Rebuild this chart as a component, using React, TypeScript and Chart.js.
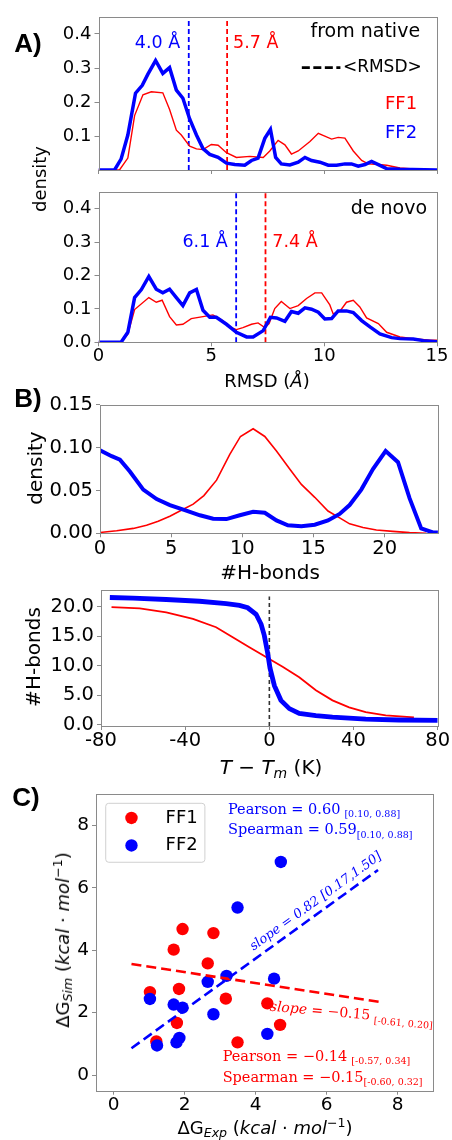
import React, { useEffect, useRef } from 'react';
import { Chart, registerables } from 'chart.js';
Chart.register(...registerables);

const SANS = '"DejaVu Sans", sans-serif';
const SERIF = '"DejaVu Serif", serif';
const RED = '#ff0000';
const BLUE = '#0000ff';
const SPINE = '#8a8a8a';

// ---------- Panel A: RMSD densities ----------
const A_X_TICKS = [0, 5, 10, 15];
const A_Y_TICKS_TOP = [0.1, 0.2, 0.3, 0.4];
const A_Y_TICKS_BOTTOM = [0.0, 0.1, 0.2, 0.3, 0.4];

const NATIVE_FF1_X = [0, 0.93, 1.3, 1.6, 1.97, 2.34, 2.85, 3.15, 3.45, 3.67, 4.04, 4.34, 4.63, 5.0, 5.3, 5.67, 6.11, 6.71, 7.3, 7.59, 7.96, 8.26, 8.55, 8.85, 9.37, 9.74, 10.33, 10.62, 10.92, 11.29, 11.66, 11.95, 12.4, 12.77, 13.36, 14.1, 15];
const NATIVE_FF1_Y = [0, 0, 0.035, 0.16, 0.221, 0.23, 0.227, 0.178, 0.117, 0.103, 0.07, 0.062, 0.06, 0.075, 0.073, 0.051, 0.037, 0.04, 0.037, 0.056, 0.087, 0.074, 0.047, 0.056, 0.084, 0.108, 0.091, 0.096, 0.094, 0.056, 0.028, 0.018, 0.016, 0.014, 0.006, 0.002, 0];
const NATIVE_FF2_X = [0, 0.71, 1.0, 1.3, 1.64, 1.94, 2.19, 2.53, 2.85, 3.15, 3.45, 3.74, 4.04, 4.34, 4.63, 4.93, 5.3, 5.67, 6.04, 6.48, 6.78, 7.07, 7.37, 7.62, 7.85, 8.1, 8.48, 8.85, 9.15, 9.44, 9.81, 10.18, 10.55, 10.92, 11.21, 11.51, 11.81, 12.1, 12.4, 12.77, 13.36, 15];
const NATIVE_FF2_Y = [0, 0, 0.032, 0.103, 0.226, 0.249, 0.282, 0.322, 0.284, 0.301, 0.235, 0.211, 0.15, 0.103, 0.063, 0.046, 0.037, 0.02, 0.016, 0.014, 0.028, 0.035, 0.093, 0.119, 0.037, 0.018, 0.015, 0.023, 0.037, 0.028, 0.023, 0.014, 0.014, 0.018, 0.018, 0.011, 0.016, 0.025, 0.016, 0.004, 0.002, 0];
const NATIVE_MEAN = [5.7, 4.0]; // FF1, FF2

const DENOVO_FF1_X = [0, 1.0, 1.3, 1.6, 2.23, 2.56, 2.82, 3.15, 3.45, 3.74, 4.11, 4.63, 5.07, 5.44, 5.89, 6.11, 6.4, 6.78, 7.07, 7.37, 7.56, 7.81, 8.1, 8.48, 8.85, 9.22, 9.59, 9.89, 10.25, 10.4, 10.7, 10.99, 11.29, 11.58, 11.88, 12.4, 12.77, 13.36, 13.95, 14.7, 15];
const DENOVO_FF1_Y = [0, 0, 0.024, 0.098, 0.134, 0.12, 0.126, 0.077, 0.052, 0.054, 0.071, 0.077, 0.082, 0.068, 0.044, 0.038, 0.044, 0.054, 0.058, 0.044, 0.056, 0.101, 0.122, 0.101, 0.11, 0.131, 0.148, 0.148, 0.112, 0.085, 0.093, 0.12, 0.126, 0.106, 0.073, 0.056, 0.03, 0.016, 0.011, 0.006, 0.006];
const DENOVO_FF2_X = [0, 1.0, 1.3, 1.6, 1.9, 2.23, 2.56, 2.85, 3.15, 3.45, 3.74, 4.04, 4.34, 4.63, 4.93, 5.22, 5.67, 6.11, 6.56, 6.85, 7.3, 7.62, 7.89, 8.26, 8.55, 8.85, 9.15, 9.44, 9.74, 10.03, 10.33, 10.62, 10.99, 11.29, 11.66, 12.03, 12.47, 12.99, 13.36, 13.95, 14.4, 15];
const DENOVO_FF2_Y = [0, 0, 0.03, 0.134, 0.158, 0.197, 0.159, 0.148, 0.159, 0.134, 0.11, 0.148, 0.158, 0.096, 0.075, 0.075, 0.054, 0.03, 0.016, 0.016, 0.035, 0.075, 0.073, 0.063, 0.092, 0.087, 0.103, 0.099, 0.09, 0.07, 0.071, 0.094, 0.094, 0.089, 0.065, 0.046, 0.025, 0.014, 0.011, 0.01, 0.005, 0.002];
const DENOVO_MEAN = [7.4, 6.1]; // FF1, FF2

// ---------- Panel B: H-bonds ----------
const B_X_TICKS = [0, 5, 10, 15, 20];
const B_Y_TICKS = [0.0, 0.05, 0.1, 0.15];
const HB_FF1_X = [0, 1.17, 2.34, 3.27, 4.09, 4.91, 5.85, 6.55, 7.3, 8.19, 9.12, 9.87, 10.76, 11.58, 12.4, 13.33, 14.15, 15.09, 16.02, 16.84, 17.54, 18.48, 19.42, 20.58, 21.75, 22.92];
const HB_FF1_Y = [0.001, 0.003, 0.0057, 0.0094, 0.014, 0.02, 0.028, 0.034, 0.044, 0.062, 0.092, 0.113, 0.122, 0.113, 0.096, 0.075, 0.057, 0.042, 0.026, 0.018, 0.011, 0.0068, 0.0038, 0.0023, 0.0008, 0];
const HB_FF2_X = [0, 0.82, 1.4, 2.1, 3.04, 3.98, 4.91, 5.96, 7.02, 7.95, 8.89, 9.82, 10.76, 11.58, 12.4, 13.2, 14.15, 15.09, 16.02, 16.84, 17.54, 18.36, 19.18, 20.07, 20.94, 21.75, 22.57, 23.39, 23.74];
const HB_FF2_Y = [0.097, 0.09, 0.086, 0.072, 0.051, 0.04, 0.033, 0.027, 0.021, 0.017, 0.0166, 0.021, 0.025, 0.024, 0.015, 0.0094, 0.0083, 0.01, 0.015, 0.0226, 0.033, 0.051, 0.075, 0.096, 0.083, 0.041, 0.0057, 0.001, 0.0008];

const T_X_TICKS = [-80, -40, 0, 40, 80];
const T_Y_TICKS = [0, 5, 10, 15, 20];
const MELT_FF1_X = [-75, -61.6, -49, -36.3, -25.3, -17.4, -9.5, -3.2, 0, 6.3, 14.2, 22.1, 30, 37.9, 45.8, 55.3, 68.7];
const MELT_FF1_Y = [19.9, 19.7, 19.0, 17.9, 16.5, 14.8, 13.1, 11.8, 11.1, 9.8, 8.0, 5.8, 4.1, 2.9, 2.1, 1.54, 1.2];
const MELT_FF2_X = [-75.8, -64.8, -49, -33.2, -20.5, -14.2, -10.3, -6.3, -3.9, -2.4, -0.8, 0.3, 2.4, 5.5, 9.5, 14.2, 22.1, 30, 45.8, 61.6, 80];
const MELT_FF2_Y = [21.54, 21.43, 21.2, 20.9, 20.5, 20.2, 19.8, 18.7, 17.0, 15.1, 12.1, 9.6, 6.6, 4.1, 2.7, 1.9, 1.5, 1.26, 0.93, 0.77, 0.71];
const TM_LINE_X = 0;
const TM_LINE_TOP = 21.7;

// ---------- Panel C: binding free energies ----------
const C_TICKS = [0, 2, 4, 6, 8];
const DG_FF1_EXP = [1.02, 1.2, 1.69, 1.94, 1.84, 1.78, 2.65, 2.81, 3.16, 3.49, 4.33, 4.69];
const DG_FF1_SIM = [2.66, 1.08, 4.02, 4.68, 2.76, 1.67, 3.58, 4.55, 2.45, 1.05, 2.3, 1.61];
const DG_FF2_EXP = [1.02, 1.22, 1.69, 1.94, 1.77, 1.85, 2.65, 2.81, 3.18, 3.49, 4.33, 4.52, 4.71];
const DG_FF2_SIM = [2.44, 0.95, 2.26, 2.16, 1.05, 1.19, 2.99, 1.95, 3.18, 5.37, 1.32, 3.09, 6.83];
const FIT_INTERCEPT = [3.647, 0.45]; // FF1, FF2 (drawn lines)
const FIT_SLOPE = [-0.174, 0.822];
const FIT_X_RANGE = [[0.5, 7.5], [0.5, 7.45]];

// ---------- helpers ----------
const pts = (xs: number[], ys: number[]) => xs.map((x, i) => ({ x, y: ys[i] }));
const fitLine = (k: number) => FIT_X_RANGE[k].map((x) => ({ x, y: FIT_INTERCEPT[k] + FIT_SLOPE[k] * x }));

type Part = { t: string; size: number; family?: string; style?: string; dy?: number; gap?: number };
type Note = { x: number; y: number; parts: Part[]; color: string; align?: 'left' | 'right' | 'center'; rot?: number };

function drawNote(chart: any, n: Note) {
  const ctx = chart.ctx as CanvasRenderingContext2D;
  const px = chart.scales.x.getPixelForValue(n.x);
  const py = chart.scales.y.getPixelForValue(n.y);
  ctx.save();
  ctx.translate(px, py);
  if (n.rot) ctx.rotate((n.rot * Math.PI) / 180);
  ctx.fillStyle = n.color;
  ctx.textBaseline = 'middle';
  ctx.textAlign = 'left';
  const fonts = n.parts.map((p) => `${p.style || 'normal'} normal ${p.size}px ${p.family || SANS}`);
  const widths = n.parts.map((p, i) => {
    ctx.font = fonts[i];
    return ctx.measureText(p.t).width;
  });
  const total = widths.reduce((a, w, i) => a + w + (n.parts[i].gap || 0), 0);
  let cx = n.align === 'right' ? -total : n.align === 'center' ? -total / 2 : 0;
  n.parts.forEach((p, i) => {
    cx += p.gap || 0;
    ctx.font = fonts[i];
    ctx.fillText(p.t, cx, p.dy || 0);
    cx += widths[i];
  });
  ctx.restore();
}

function makeOverlay(notes: Note[], extra?: (chart: any) => void) {
  return {
    id: 'overlay',
    afterDatasetsDraw(chart: any) {
      const ctx = chart.ctx as CanvasRenderingContext2D;
      const a = chart.chartArea;
      ctx.save();
      ctx.strokeStyle = SPINE;
      ctx.lineWidth = 1;
      const l = Math.round(a.left) + 0.5, t = Math.round(a.top) + 0.5;
      ctx.strokeRect(l, t, Math.round(a.right) - Math.round(a.left), Math.round(a.bottom) - Math.round(a.top));
      ctx.restore();
      if (extra) extra(chart);
      notes.forEach((n) => drawNote(chart, n));
    },
  };
}

type Spec = {
  top: number; height: number; L: number; R: number; T: number; B: number;
  datasets: any[]; xMin: number; xMax: number; yMin: number; yMax: number;
  xTicks: number[]; yTicks: number[]; xFmt: (v: number) => string; yFmt: (v: number) => string;
  showX: boolean; fs: number; notes: Note[]; extra?: (chart: any) => void;
};

function Panel({ spec }: { spec: Spec }) {
  const ref = useRef<HTMLCanvasElement>(null);
  useEffect(() => {
    const s = spec;
    const tickFont = { size: s.fs, family: SANS, lineHeight: 1 };
    const grid = { display: true, drawOnChartArea: false, drawTicks: true, tickLength: 4, color: SPINE, lineWidth: 1 };
    const chart = new Chart(ref.current as HTMLCanvasElement, {
      type: 'scatter',
      data: { datasets: s.datasets },
      options: {
        animation: false,
        responsive: false,
        maintainAspectRatio: false,
        devicePixelRatio: 1,
        events: [],
        layout: { autoPadding: false, padding: { left: 0, top: s.T - s.top, right: 452 - s.R, bottom: 0 } },
        plugins: { legend: { display: false }, tooltip: { enabled: false } },
        scales: {
          x: {
            type: 'linear', min: s.xMin, max: s.xMax,
            afterBuildTicks: (sc: any) => { sc.ticks = s.xTicks.map((v) => ({ value: v })); },
            afterFit: (sc: any) => { sc.height = s.height - (s.B - s.top); },
            grid, border: { display: false },
            ticks: { display: s.showX, autoSkip: false, maxRotation: 0, color: '#000', font: tickFont, padding: 1.5, callback: (v: any) => s.xFmt(Number(v)) },
          },
          y: {
            type: 'linear', min: s.yMin, max: s.yMax,
            afterBuildTicks: (sc: any) => { sc.ticks = s.yTicks.map((v) => ({ value: v })); },
            afterFit: (sc: any) => { sc.width = s.L; },
            grid, border: { display: false },
            ticks: { autoSkip: false, color: '#000', font: tickFont, padding: 3, callback: (v: any) => s.yFmt(Number(v)) },
          },
        },
      } as any,
      plugins: [makeOverlay(s.notes, s.extra)],
    });
    return () => chart.destroy();
  }, []);
  return (
    <canvas ref={ref} width={452} height={spec.height}
      style={{ position: 'absolute', left: 0, top: spec.top, width: 452, height: spec.height }} />
  );
}

const line = (data: any[], color: string, width: number, order: number, dash: number[] = []) => ({
  data, showLine: true, pointRadius: 0, borderColor: color, backgroundColor: color,
  borderWidth: width, borderDash: dash, tension: 0, fill: false, order,
});
const vline = (x: number, y0: number, y1: number, color: string, width: number, dash: number[]) =>
  line([{ x, y: y0 }, { x, y: y1 }], color, width, 3, dash);

const f1 = (v: number) => v.toFixed(1);
const f2 = (v: number) => v.toFixed(2);
const f0 = (v: number) => String(Math.round(v));

const txt = (x: number, y: number, t: string, color: string, size: number, align: 'left' | 'right' | 'center' = 'left'): Note =>
  ({ x, y, color, align, parts: [{ t, size }] });

// ---------- panel specs ----------
const specA1: Spec = {
  top: 0, height: 182, L: 98.5, R: 437, T: 17, B: 176.3,
  datasets: [
    line(pts(NATIVE_FF2_X, NATIVE_FF2_Y), BLUE, 3.5, 0),
    line(pts(NATIVE_FF1_X, NATIVE_FF1_Y), RED, 1.4, 1),
    vline(NATIVE_MEAN[1], 0, 0.45, BLUE, 1.8, [5, 3]),
    vline(NATIVE_MEAN[0], 0, 0.45, RED, 1.8, [5, 3]),
  ],
  xMin: 0, xMax: 15, yMin: 0, yMax: 0.45, xTicks: A_X_TICKS, yTicks: A_Y_TICKS_TOP,
  xFmt: f0, yFmt: f1, showX: false, fs: 18,
  notes: [
    txt(14.25, 0.406, 'from native', '#000', 19, 'right'),
    txt(10.83, 0.301, '<RMSD>', '#000', 17, 'left'),
    txt(14.12, 0.193, 'FF1', RED, 18, 'right'),
    txt(14.12, 0.108, 'FF2', BLUE, 18, 'right'),
    txt(NATIVE_MEAN[1] - 0.38, 0.372, `${NATIVE_MEAN[1].toFixed(1)} Å`, BLUE, 17.5, 'right'),
    txt(NATIVE_MEAN[0] + 0.26, 0.372, `${NATIVE_MEAN[0].toFixed(1)} Å`, RED, 17.5, 'left'),
  ],
  extra: (chart: any) => {
    const ctx = chart.ctx as CanvasRenderingContext2D;
    const xs = chart.scales.x, ys = chart.scales.y;
    ctx.save();
    ctx.strokeStyle = '#000';
    ctx.lineWidth = 2.6;
    ctx.setLineDash([8, 3.5]);
    const yy = ys.getPixelForValue(0.301);
    ctx.beginPath();
    ctx.moveTo(xs.getPixelForValue(9.01), yy);
    ctx.lineTo(xs.getPixelForValue(10.72), yy);
    ctx.stroke();
    ctx.restore();
  },
};

const specA2: Spec = {
  top: 180, height: 200, L: 98.5, R: 437, T: 183.5, B: 342.3,
  datasets: [
    line(pts(DENOVO_FF2_X, DENOVO_FF2_Y), BLUE, 3.5, 0),
    line(pts(DENOVO_FF1_X, DENOVO_FF1_Y), RED, 1.4, 1),
    vline(DENOVO_MEAN[1], 0, 0.45, BLUE, 1.8, [5, 3]),
    vline(DENOVO_MEAN[0], 0, 0.45, RED, 1.8, [5, 3]),
  ],
  xMin: 0, xMax: 15, yMin: 0, yMax: 0.45, xTicks: A_X_TICKS, yTicks: A_Y_TICKS_BOTTOM,
  xFmt: f0, yFmt: f1, showX: true, fs: 18,
  notes: [
    txt(14.56, 0.398, 'de novo', '#000', 19, 'right'),
    txt(DENOVO_MEAN[1] - 0.37, 0.299, `${DENOVO_MEAN[1].toFixed(1)} Å`, BLUE, 17.5, 'right'),
    txt(DENOVO_MEAN[0] + 0.3, 0.299, `${DENOVO_MEAN[0].toFixed(1)} Å`, RED, 17.5, 'left'),
  ],
};

const specB1: Spec = {
  top: 392, height: 170, L: 100, R: 438, T: 400.7, B: 533.3,
  datasets: [
    line(pts(HB_FF2_X, HB_FF2_Y), BLUE, 4, 0),
    line(pts(HB_FF1_X, HB_FF1_Y), RED, 1.6, 1),
  ],
  xMin: 0, xMax: 23.75, yMin: 0, yMax: 0.15, xTicks: B_X_TICKS, yTicks: B_Y_TICKS,
  xFmt: f0, yFmt: f2, showX: true, fs: 19.5, notes: [],
};

const specB2: Spec = {
  top: 577, height: 185, L: 101, R: 437.7, T: 585, B: 726,
  datasets: [
    line(pts(MELT_FF2_X, MELT_FF2_Y), BLUE, 4.8, 0),
    line(pts(MELT_FF1_X, MELT_FF1_Y), RED, 1.8, 1),
    vline(TM_LINE_X, -0.25, TM_LINE_TOP, '#333', 1.6, [4, 3]),
  ],
  xMin: -80, xMax: 80, yMin: -0.25, yMax: 22.85, xTicks: T_X_TICKS, yTicks: T_Y_TICKS,
  xFmt: f0, yFmt: f1, showX: true, fs: 19.5, notes: [],
};

const specC: Spec = {
  top: 782, height: 330, L: 96, R: 433, T: 790, B: 1090.7,
  datasets: [
    { data: pts(DG_FF2_EXP, DG_FF2_SIM), pointRadius: 6.2, backgroundColor: BLUE, borderWidth: 0, showLine: false, order: 1 },
    { data: pts(DG_FF1_EXP, DG_FF1_SIM), pointRadius: 6.2, backgroundColor: RED, borderWidth: 0, showLine: false, order: 2 },
    line(fitLine(1), BLUE, 2.6, 0, [10, 5]),
    line(fitLine(0), RED, 2.6, 0, [10, 5]),
  ],
  xMin: -0.5, xMax: 9.0, yMin: -0.5, yMax: 9.0, xTicks: C_TICKS, yTicks: C_TICKS,
  xFmt: f0, yFmt: f0, showX: true, fs: 18.5,
  notes: [
    { x: 3.22, y: 8.5, color: BLUE, parts: [{ t: 'Pearson = 0.60', size: 14.5, family: SERIF }, { t: '[0.10, 0.88]', size: 9.5, family: SERIF, dy: 5, gap: 4 }] },
    { x: 3.22, y: 7.84, color: BLUE, parts: [{ t: 'Spearman = 0.59', size: 14.5, family: SERIF }, { t: '[0.10, 0.88]', size: 9.5, family: SERIF, dy: 5 }] },
    { x: 3.07, y: 0.58, color: RED, parts: [{ t: 'Pearson = −0.14', size: 14.5, family: SERIF }, { t: '[-0.57, 0.34]', size: 9.5, family: SERIF, dy: 5, gap: 4 }] },
    { x: 3.07, y: -0.085, color: RED, parts: [{ t: 'Spearman = −0.15', size: 14.5, family: SERIF }, { t: '[-0.60, 0.32]', size: 9.5, family: SERIF, dy: 5 }] },
    { x: 5.7, y: 5.56, color: BLUE, align: 'center', rot: -35.8, parts: [{ t: 'slope', size: 13, family: SERIF, style: 'italic' }, { t: ' = 0.82 [0.17,1.50]', size: 13, family: SERIF, style: 'italic' }] },
    { x: 6.7, y: 1.95, color: RED, align: 'center', rot: 5, parts: [{ t: 'slope', size: 14, family: SERIF, style: 'italic' }, { t: ' = −0.15', size: 14, family: SERIF }, { t: '[-0.61, 0.20]', size: 9.5, family: SERIF, dy: 5, gap: 4 }] },
  ],
  extra: (chart: any) => {
    const ctx = chart.ctx as CanvasRenderingContext2D;
    const xs = chart.scales.x, ys = chart.scales.y;
    const x0 = xs.getPixelForValue(-0.226), x1 = xs.getPixelForValue(2.57);
    const y0 = ys.getPixelForValue(8.71), y1 = ys.getPixelForValue(6.82);
    ctx.save();
    ctx.fillStyle = 'rgba(255,255,255,0.8)';
    ctx.strokeStyle = '#d0d0d0';
    ctx.lineWidth = 1;
    ctx.beginPath();
    (ctx as any).roundRect(x0, y0, x1 - x0, y1 - y0, 3);
    ctx.fill();
    ctx.stroke();
    const items: [string, string, number][] = [['FF1', RED, 8.24], ['FF2', BLUE, 7.36]];
    items.forEach(([label, color, yv]) => {
      const py = ys.getPixelForValue(yv);
      ctx.fillStyle = color;
      ctx.beginPath();
      ctx.arc(xs.getPixelForValue(0.5), py, 6.2, 0, Math.PI * 2);
      ctx.fill();
      ctx.fillStyle = '#000';
      ctx.font = `18px ${SANS}`;
      ctx.textBaseline = 'middle';
      ctx.textAlign = 'left';
      ctx.fillText(label, xs.getPixelForValue(1.46), py);
    });
    ctx.restore();
  },
};

// ---------- HTML text (axis titles, panel labels) ----------
function Txt({ x, y, rot = 0, size, weight = 'normal', family = SANS, children }: any) {
  return (
    <div style={{
      position: 'absolute', left: x, top: y, transform: `translate(-50%,-50%) rotate(${rot}deg)`,
      fontSize: size, fontFamily: family, fontWeight: weight, lineHeight: 1, whiteSpace: 'nowrap', color: '#000',
    }}>{children}</div>
  );
}
const sub = { fontSize: '0.7em', verticalAlign: '-0.25em', lineHeight: 0 } as const;
const sup = { fontSize: '0.7em', verticalAlign: '0.55em', lineHeight: 0 } as const;

export default function App() {
  return (
    <div style={{ position: 'absolute', left: 0, top: 0, width: 452, height: 1140, background: '#fff', overflow: 'hidden' }}>
      <Panel spec={specA1} />
      <Panel spec={specA2} />
      <Panel spec={specB1} />
      <Panel spec={specB2} />
      <Panel spec={specC} />
      <Txt x={28} y={43} size={26} weight="bold" family='"Liberation Sans", Arial, sans-serif'>A)</Txt>
      <Txt x={28} y={398} size={26} weight="bold" family='"Liberation Sans", Arial, sans-serif'>B)</Txt>
      <Txt x={26} y={797} size={26} weight="bold" family='"Liberation Sans", Arial, sans-serif'>C)</Txt>
      <Txt x={40} y={179} rot={-90} size={18}>density</Txt>
      <Txt x={267} y={381} size={18}>RMSD (<i>Å</i>)</Txt>
      <Txt x={35} y={468} rot={-90} size={20}>density</Txt>
      <Txt x={270} y={572} size={20}>#H-bonds</Txt>
      <Txt x={33} y={657} rot={-90} size={20}>#H-bonds</Txt>
      <Txt x={271} y={767} size={20}><i>T</i> − <i>T</i><span style={sub}><i>m</i></span> (K)</Txt>
      <Txt x={63} y={940} rot={-90} size={18}>ΔG<span style={sub}><i>Sim</i></span> (<i>kcal</i> · <i>mol</i><span style={sup}>−1</span>)</Txt>
      <Txt x={265} y={1128} size={18}>ΔG<span style={sub}><i>Exp</i></span> (<i>kcal</i> · <i>mol</i><span style={sup}>−1</span>)</Txt>
    </div>
  );
}
